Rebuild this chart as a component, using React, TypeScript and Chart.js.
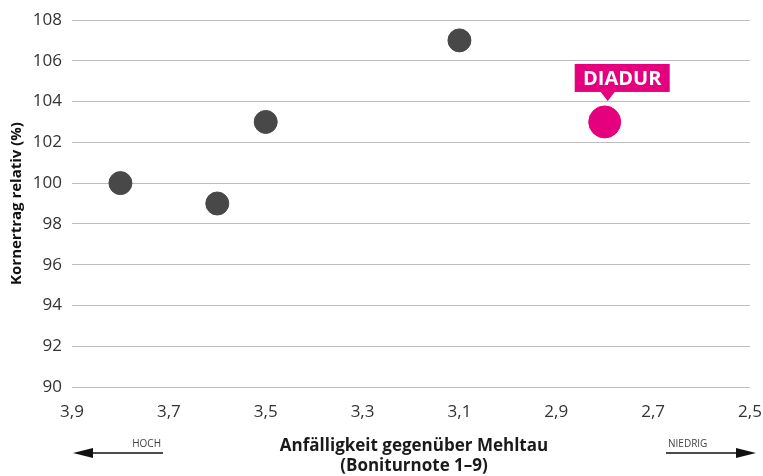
import React, { useEffect, useRef } from "react";
import { Chart, registerables } from "chart.js";

Chart.register(...registerables);

const otherVarieties = [
  { x: 3.8, y: 100 },
  { x: 3.6, y: 99 },
  { x: 3.5, y: 103 },
  { x: 3.1, y: 107 },
];
const highlightVariety = [{ x: 2.8, y: 103 }];
const highlightLabel = "DIADUR";
const xTitleLines = ["Anfälligkeit gegenüber Mehltau", "(Boniturnote 1–9)"];
const yTitle = "Kornertrag relativ (%)";
const leftArrowLabel = "HOCH";
const rightArrowLabel = "NIEDRIG";

const FONT = "'Open Sans', 'Noto Sans', sans-serif";
const PINK = "#e5007d";
const DARK = "#484848";

const overlayPlugin = {
  id: "overlay",
  afterDatasetsDraw(chart: any) {
    const ctx = chart.ctx;
    const meta = chart.getDatasetMeta(1);
    const pt = meta.data[0];
    if (pt) {
      const cx = pt.x;
      const boxBottom = pt.y - 30;
      const w = 95;
      const h = 28;
      const left = cx - 30;
      const tipX = cx + 3;
      ctx.save();
      ctx.fillStyle = PINK;
      ctx.fillRect(left, boxBottom - h, w, h);
      ctx.beginPath();
      ctx.moveTo(tipX - 7, boxBottom);
      ctx.lineTo(tipX + 7, boxBottom);
      ctx.lineTo(tipX, boxBottom + 9);
      ctx.closePath();
      ctx.fill();
      ctx.fillStyle = "#ffffff";
      ctx.font = `bold 20px ${FONT}`;
      ctx.textAlign = "center";
      ctx.textBaseline = "middle";
      ctx.fillText(highlightLabel, left + w / 2, boxBottom - h / 2 + 1);
      ctx.restore();
    }
  },
  afterDraw(chart: any) {
    const ctx = chart.ctx;
    const area = chart.chartArea;
    ctx.save();
    // x title
    ctx.fillStyle = "#1a1a1a";
    ctx.font = `bold 17px ${FONT}`;
    ctx.textAlign = "center";
    ctx.textBaseline = "middle";
    const midX = 414;
    ctx.fillText(xTitleLines[0], midX, 446);
    ctx.fillText(xTitleLines[1], midX, 466);
    // arrows
    const ay = 453;
    ctx.strokeStyle = "#111";
    ctx.fillStyle = "#111";
    ctx.lineWidth = 1.5;
    const lTip = area.left + 1;
    ctx.beginPath();
    ctx.moveTo(lTip + 10, ay);
    ctx.lineTo(lTip + 90, ay);
    ctx.stroke();
    ctx.beginPath();
    ctx.moveTo(lTip, ay);
    ctx.lineTo(lTip + 20, ay - 5);
    ctx.lineTo(lTip + 20, ay + 5);
    ctx.closePath();
    ctx.fill();
    const rTip = area.right + 6;
    ctx.beginPath();
    ctx.moveTo(rTip - 90, ay);
    ctx.lineTo(rTip - 10, ay);
    ctx.stroke();
    ctx.beginPath();
    ctx.moveTo(rTip, ay);
    ctx.lineTo(rTip - 20, ay - 5);
    ctx.lineTo(rTip - 20, ay + 5);
    ctx.closePath();
    ctx.fill();
    ctx.font = `10px ${FONT}`;
    ctx.fillStyle = "#444";
    ctx.textBaseline = "alphabetic";
    ctx.textAlign = "right";
    ctx.fillText(leftArrowLabel, lTip + 88, 447);
    ctx.textAlign = "left";
    ctx.fillText(rightArrowLabel, rTip - 88, 447);
    ctx.restore();
  },
};

export default function App() {
  const ref = useRef<HTMLCanvasElement>(null);
  useEffect(() => {
    if (!ref.current) return;
    const chart = new Chart(ref.current, {
      type: "scatter",
      data: {
        datasets: [
          {
            data: otherVarieties,
            backgroundColor: DARK,
            borderColor: DARK,
            pointRadius: 11.5,
            pointHoverRadius: 11.5,
          },
          {
            data: highlightVariety,
            backgroundColor: PINK,
            borderColor: PINK,
            pointRadius: 16,
            pointHoverRadius: 16,
          },
        ],
      },
      options: {
        responsive: false,
        animation: false,
        layout: { autoPadding: false, padding: { top: 20, right: 13, left: 0, bottom: 0 } },
        plugins: { legend: { display: false }, tooltip: { enabled: false } },
        scales: {
          x: {
            type: "linear",
            reverse: true,
            min: 2.5,
            max: 3.9,
            grid: { display: false, drawTicks: false },
            border: { display: false },
            ticks: {
              stepSize: 0.2,
              padding: 15,
              maxRotation: 0,
              color: "#333",
              font: { family: FONT, size: 17 },
              callback: (v: any) => Number(v).toFixed(1).replace(".", ","),
            },
            afterFit: (s: any) => {
              s.height = 89;
              s.paddingLeft = 0;
              s.paddingRight = 0;
            },
          },
          y: {
            min: 90,
            max: 108,
            grid: { color: "#bdbdbd", lineWidth: 1, drawTicks: false },
            border: { display: false },
            ticks: {
              stepSize: 2,
              padding: 10,
              color: "#333",
              font: { family: FONT, size: 17 },
            },
            title: {
              display: true,
              text: yTitle,
              color: "#111",
              font: { family: FONT, size: 15, weight: "bold" },
              padding: { top: 8, bottom: 0 },
            },
            afterFit: (s: any) => {
              s.width = 72;
              s.paddingTop = 0;
              s.paddingBottom = 0;
            },
          },
        },
      },
      plugins: [overlayPlugin],
    } as any);
    return () => chart.destroy();
  }, []);
  return (
    <div style={{ position: "absolute", left: 0, top: 0, width: 763, height: 476 }}>
      <canvas ref={ref} width={763} height={476} style={{ width: 763, height: 476 }} />
    </div>
  );
}
